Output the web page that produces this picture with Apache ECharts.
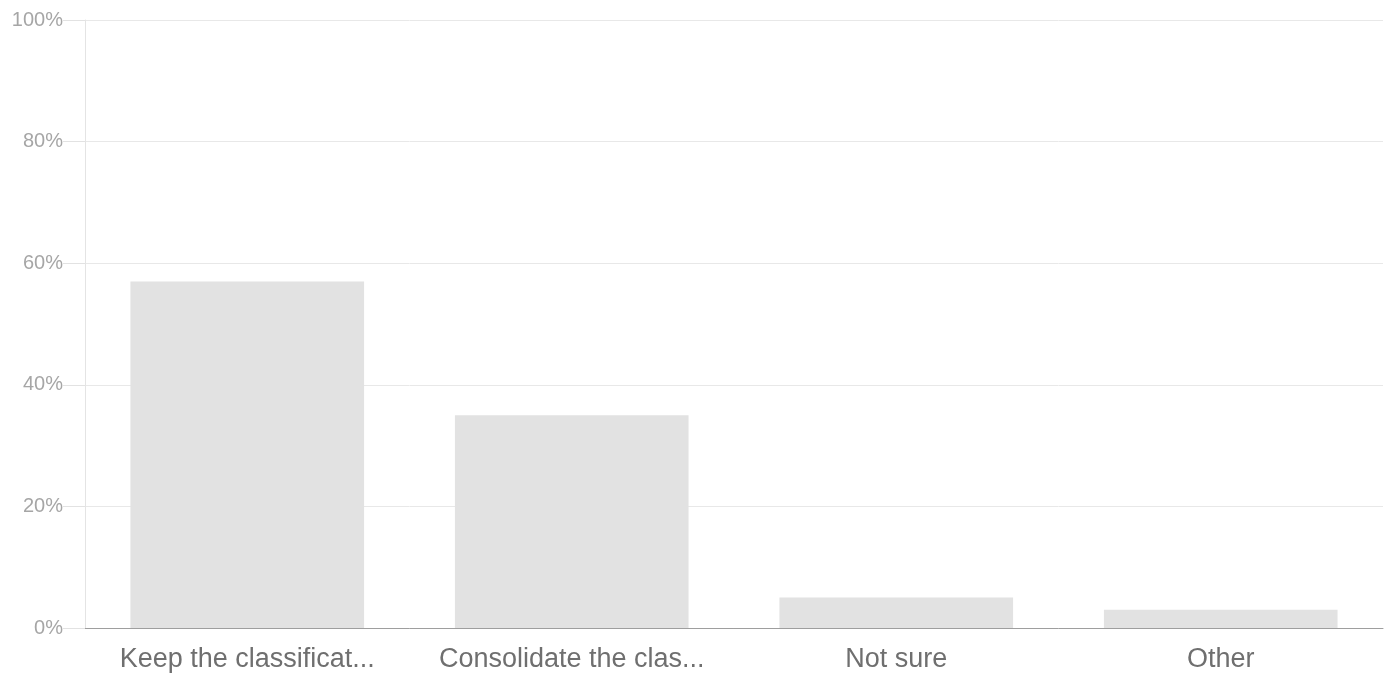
<!DOCTYPE html>
<html>
<head>
<meta charset="utf-8">
<style>
  html, body { margin: 0; padding: 0; background: #ffffff; }
  #chart { width: 1392px; height: 681px; }
</style>
<script src="https://cdn.jsdelivr.net/npm/echarts@6/dist/echarts.min.js"></script>
</head>
<body>
<div id="chart"></div>
<script>
// Survey responses, share of respondents (%)
const categories = ['Keep the classificat...', 'Consolidate the clas...', 'Not sure', 'Other'];
const shares = [57, 35, 5, 3];
const yTicks = [0, 20, 40, 60, 80, 100];

const chart = echarts.init(document.getElementById('chart'), null, { renderer: 'canvas' });

chart.setOption({
  animation: false,
  grid: { left: 85, right: 9, top: 20, bottom: 53, containLabel: false },
  xAxis: {
    type: 'category',
    data: categories,
    axisLine: { show: true, lineStyle: { color: '#9e9e9e', width: 1 } },
    axisTick: { show: false },
    axisLabel: {
      color: '#6f6f6f',
      fontFamily: 'Liberation Sans, Arial, sans-serif',
      fontSize: 27,
      margin: 18,
      interval: 0
    },
    splitLine: { show: false }
  },
  yAxis: {
    type: 'value',
    min: yTicks[0],
    max: yTicks[yTicks.length - 1],
    interval: yTicks[1] - yTicks[0],
    axisLine: { show: true, lineStyle: { color: '#e4e4e4', width: 1 } },
    axisTick: { show: true, inside: false, length: 22, lineStyle: { color: '#e2e2e2', width: 1 } },
    axisLabel: {
      color: '#a6a6a6',
      fontFamily: 'Liberation Sans, Arial, sans-serif',
      fontSize: 20,
      margin: 22,
      formatter: v => v + '%'
    },
    splitLine: { show: true, lineStyle: { color: '#e8e8e8', width: 1 } }
  },
  series: [{
    type: 'bar',
    data: shares,
    barCategoryGap: '28%',
    itemStyle: { color: '#e2e2e2' },
    emphasis: { disabled: true }
  }]
});
</script>
</body>
</html>
